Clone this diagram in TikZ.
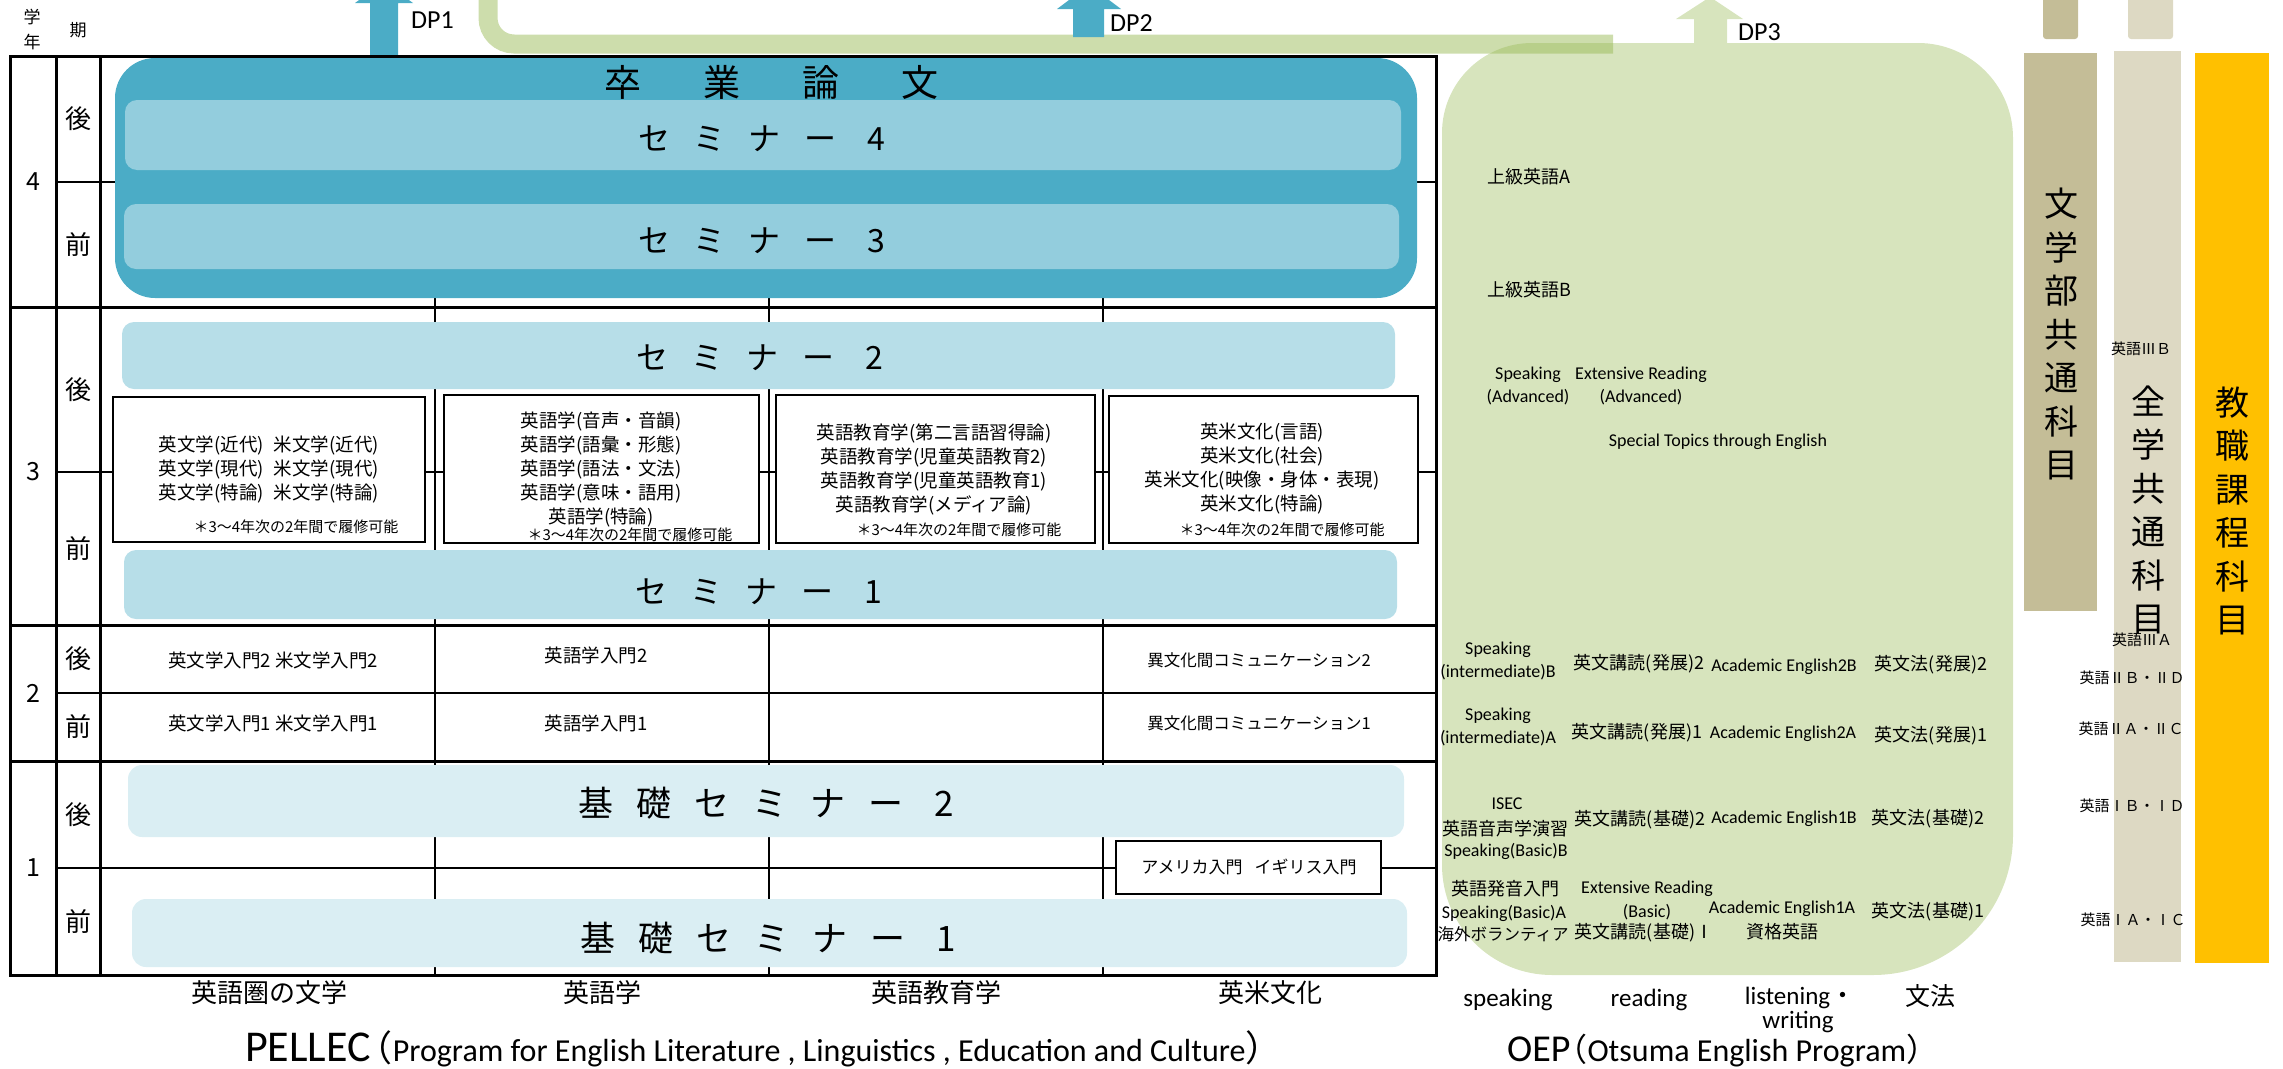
\documentclass[tikz,border=0pt]{standalone}
\usepackage{fontspec}
\setmainfont{Noto Sans CJK JP}
\newfontfamily\jpf{Noto Sans CJK JP}
\newfontfamily\latinf{Carlito}
\newlength\mypitch
\newcommand\bx[1]{\makebox[\mypitch][c]{#1}}
\definecolor{blueA}{HTML}{4BACC6}
\definecolor{blueB}{HTML}{93CDDD}
\definecolor{blueC}{HTML}{B7DEE8}
\definecolor{blueD}{HTML}{DAEEF3}
\definecolor{oepgreen}{HTML}{D7E4BD}
\definecolor{olivebar}{HTML}{9BBB59}
\definecolor{tanbar}{HTML}{C4BD97}
\definecolor{greybar}{HTML}{DDD9C3}
\definecolor{goldbar}{HTML}{FFC000}
\tikzset{
 thickln/.style={line width=3pt, draw=black},
 thinln/.style={line width=1.2pt, draw=black},
 tj/.style={font=\fontsize{18.5}{24}\selectfont, align=center},
 nt/.style={font=\fontsize{15}{18}\selectfont},
 hd/.style={font=\fontsize{17}{20}\selectfont},
 yr/.style={font=\fontsize{25}{30}\selectfont},
 sm/.style={font=\fontsize{26}{30}\selectfont},
 colh/.style={font=\fontsize{26}{30}\selectfont},
 semtxt/.style={font=\fontsize{32}{36}\selectfont},
 kisotxt/.style={font=\fontsize{35}{40}\selectfont},
 thesis/.style={font=\fontsize{37}{40}\selectfont},
 crs/.style={draw=black, line width=1.5pt, fill=white},
 oj/.style={font=\fontsize{18}{22}\selectfont},
 ol/.style={font=\latinf\fontsize{18}{23}\selectfont, align=center},
 dp/.style={font=\latinf\fontsize{26}{30}\selectfont, anchor=west},
 vert/.style={font=\fontsize{34}{43.5}\selectfont, align=center},
 eng/.style={font=\fontsize{15}{18}\selectfont},
 btm/.style={font=\latinf\fontsize{25}{28}\selectfont},
}
\begin{document}
\begin{tikzpicture}[x=1pt,y=-1pt, every node/.style={inner sep=0pt}]
\useasboundingbox (0,0) rectangle (2283,1068);

% ---------- OEP area ----------
\fill[oepgreen] (1442,133) .. controls (1442,83.3) and (1482.3,43) .. (1532,43)
  -- (1918,43) .. controls (1970.4,43) and (2013,85.6) .. (2013,138)
  -- (2013,835) .. controls (2013,912.3) and (1950.3,975) .. (1873,975)
  -- (1552,975) .. controls (1491.3,975) and (1442,925.7) .. (1442,865) -- cycle;
% DP3 arrow
\fill[oepgreen] (1694,45) -- (1694,19) -- (1676,19) -- (1710,-3) -- (1743,19) -- (1727,19) -- (1727,45) -- cycle;
% green bar
\draw[line width=19pt, draw=olivebar, draw opacity=0.5, rounded corners=26pt] (488,-30) -- (488,44) -- (1613,44);
% DP2 arrow
\fill[blueA] (1073,37) -- (1073,9) -- (1057,9) -- (1089,-15) -- (1121,9) -- (1104,9) -- (1104,37) -- cycle;
% DP1 arrow
\fill[blueA] (370,57) -- (370,3) -- (355,3) -- (384,-18) -- (413,3) -- (398,3) -- (398,57) -- cycle;
\node[dp] (dp1) at (411,20) {DP1};
\node[dp] (dp2) at (1110,23) {DP2};
\node[dp] (dp3) at (1738,32) {DP3};

% ---------- side bars ----------
\fill[tanbar, rounded corners=3pt] (2043,-10) rectangle (2078,39);
\fill[greybar, rounded corners=3pt] (2128,-10) rectangle (2173,39);
\fill[tanbar] (2024,53) rectangle (2097,611);
\fill[greybar] (2114,51) rectangle (2181,962);
\fill[goldbar] (2195,53) rectangle (2269,963);
\node[vert] (v1) at (2061,334) {文\\学\\部\\共\\通\\科\\目};
\node[vert] (v2) at (2148,510) {全\\学\\共\\通\\科\\目};
\node[vert] (v3) at (2232,511) {教\\職\\課\\程\\科\\目};
\node[eng] (e1) at (2141,349) {英語ⅢＢ};
\node[eng] (e2) at (2142,640) {英語ⅢＡ};
\node[eng] (e3) at (2132,678) {英語ⅡＢ・ⅡＤ};
\node[eng] (e4) at (2131,729) {英語ⅡＡ・ⅡＣ};
\node[eng] (e5) at (2132,806) {英語ⅠＢ・ⅠＤ};
\node[eng] (e6) at (2133,920) {英語ⅠＡ・ⅠＣ};

% ---------- table thin lines ----------
\foreach \yy in {182,472,693,868} \draw[thinln] (56,\yy) -- (1436,\yy);
\foreach \xx in {435,769,1103} \draw[thinln] (\xx,56) -- (\xx,975);

% ---------- year 4 ----------
\fill[blueA, rounded corners=40pt] (115,58) rectangle (1417,298);
\fill[blueB, rounded corners=12pt] (125,100) rectangle (1401,170);
\fill[blueB, rounded corners=12pt] (124,204) rectangle (1399,269);
\node[thesis] (thesis) at (771.5,82) {\setlength\mypitch{99pt}\bx{卒}\bx{業}\bx{論}\bx{文}};
\node[semtxt] (sem4) at (765,139) {\setlength\mypitch{55.5pt}\bx{セ}\bx{ミ}\bx{ナ}\bx{ー}\bx{4}};
\node[semtxt] (sem3) at (765,241) {\setlength\mypitch{55.5pt}\bx{セ}\bx{ミ}\bx{ナ}\bx{ー}\bx{3}};

% ---------- year 3 ----------
\fill[blueC, rounded corners=12pt] (122,322) rectangle (1395,389);
\fill[blueC, rounded corners=12pt] (124,550) rectangle (1397,619);
\node[semtxt] (sem2) at (763,358) {\setlength\mypitch{55.5pt}\bx{セ}\bx{ミ}\bx{ナ}\bx{ー}\bx{2}};
\node[semtxt] (sem1) at (762,592) {\setlength\mypitch{55.5pt}\bx{セ}\bx{ミ}\bx{ナ}\bx{ー}\bx{1}};
\draw[crs] (113,397) rectangle (425,542);
\draw[crs] (444,395) rectangle (759,543);
\draw[crs] (776,395) rectangle (1095,543);
\draw[crs] (1109,396) rectangle (1418,543);
\node[tj] (ca) at (269,469) {英文学(近代)\hspace{10pt}米文学(近代)\\英文学(現代)\hspace{10pt}米文学(現代)\\英文学(特論)\hspace{10pt}米文学(特論)};
\node[nt] (na) at (296,527) {＊3〜4年次の2年間で履修可能};
\node[tj] (cb) at (601,469) {英語学(音声・音韻)\\英語学(語彙・形態)\\英語学(語法・文法)\\英語学(意味・語用)\\英語学(特論)};
\node[nt] (nb) at (630,535) {＊3〜4年次の2年間で履修可能};
\node[tj] (cc) at (934,469) {英語教育学(第二言語習得論)\\英語教育学(児童英語教育2)\\英語教育学(児童英語教育1)\\英語教育学(メディア論)};
\node[nt] (nc) at (959,530) {＊3〜4年次の2年間で履修可能};
\node[tj] (cd) at (1262,469) {英米文化(言語)\\英米文化(社会)\\英米文化(映像・身体・表現)\\英米文化(特論)};
\node[nt] (nd) at (1282,530) {＊3〜4年次の2年間で履修可能};

% ---------- year 2 ----------
\node[tj] (y2a) at (273,660) {英文学入門2 米文学入門2};
\node[tj] (y2b) at (596,655) {英語学入門2};
\node[tj, font=\fontsize{16.5}{20}\selectfont] (y2c) at (1259,660) {異文化間コミュニケーション2};
\node[tj] (y1a) at (273,723) {英文学入門1 米文学入門1};
\node[tj] (y1b) at (596,723) {英語学入門1};
\node[tj, font=\fontsize{16.5}{20}\selectfont] (y1c) at (1259,723) {異文化間コミュニケーション1};

% ---------- year 1 ----------
\fill[blueD, rounded corners=14pt] (128,765) rectangle (1404,837);
\fill[blueD, rounded corners=14pt] (132,899) rectangle (1407,967);
\node[kisotxt] (k2) at (770,803) {\setlength\mypitch{58pt}\bx{基}\bx{礎}\bx{セ}\bx{ミ}\bx{ナ}\bx{ー}\bx{2}};
\node[kisotxt] (k1) at (772,938) {\setlength\mypitch{58pt}\bx{基}\bx{礎}\bx{セ}\bx{ミ}\bx{ナ}\bx{ー}\bx{1}};
\draw[crs] (1116,841) rectangle (1381,894);
\node[tj, font=\fontsize{17}{20}\selectfont] (ame) at (1249,867) {アメリカ入門\hspace{12pt}イギリス入門};

% ---------- table thick lines ----------
\draw[thickln] (10,56) rectangle (1436,975);
\draw[thickln] (56,56) -- (56,975);
\draw[thickln] (100,56) -- (100,975);
\foreach \yy in {307,625,761} \draw[thickln] (10,\yy) -- (1436,\yy);

% ---------- row / column labels ----------
\node[hd] (h1) at (32,17) {学};
\node[hd] (h2) at (32,42) {年};
\node[hd] (h3) at (78,30) {期};
\node[yr] (r4) at (33,182) {4};
\node[yr] (r3) at (33,472) {3};
\node[yr] (r2) at (33,693) {2};
\node[yr] (r1) at (33,868) {1};
\node[sm] (s4b) at (78,119) {後};
\node[sm] (s4a) at (78,245) {前};
\node[sm] (s3b) at (78,390) {後};
\node[sm] (s3a) at (78,549) {前};
\node[sm] (s2b) at (78,659) {後};
\node[sm] (s2a) at (78,727) {前};
\node[sm] (s1b) at (78,815) {後};
\node[sm] (s1a) at (78,922) {前};
\node[colh] (c1) at (269,993) {英語圏の文学};
\node[colh] (c2) at (602,993) {英語学};
\node[colh] (c3) at (936,993) {英語教育学};
\node[colh] (c4) at (1270,993) {英米文化};
\node[anchor=base west] (pellec) at (245,1061) {\latinf\fontsize{44}{44}\selectfont PELLEC\hspace{-14pt}\jpf\fontsize{36}{36}\selectfont （\latinf\fontsize{32}{32}\selectfont Program for English Literature , Linguistics , Education and Culture\jpf\fontsize{36}{36}\selectfont ）};

% ---------- OEP texts ----------
\node[oj, anchor=west] (o1) at (1487,177) {上級英語A};
\node[oj, anchor=west] (o2) at (1487,290) {上級英語B};
\node[ol] (o3) at (1528,386) {Speaking\\(Advanced)};
\node[ol] (o4) at (1641,386) {Extensive Reading\\(Advanced)};
\node[ol] (o5) at (1718,442) {Special Topics through English};
\node[ol] (o6) at (1498,661) {Speaking\\(intermediate)B};
\node[oj] (o7) at (1639,664) {英文講読(発展)2};
\node[ol] (o8) at (1784,667) {Academic English2B};
\node[oj] (o9) at (1931,665) {英文法(発展)2};
\node[ol] (o10) at (1498,727) {Speaking\\(intermediate)A};
\node[oj] (o11) at (1637,733) {英文講読(発展)1};
\node[ol] (o12) at (1783,734) {Academic English2A};
\node[oj] (o13) at (1931,736) {英文法(発展)1};
\node[ol] (o14) at (1507,804) {ISEC};
\node[oj] (o15) at (1505,829) {英語音声学演習};
\node[ol] (o16) at (1506,851) {Speaking(Basic)B};
\node[oj] (o17) at (1640,820) {英文講読(基礎)2};
\node[ol] (o18) at (1784,819) {Academic English1B};
\node[oj] (o19) at (1928,819) {英文法(基礎)2};
\node[oj] (o20) at (1505,889) {英語発音入門};
\node[ol] (o21) at (1504,913) {Speaking(Basic)A};
\node[oj, font=\fontsize{16.5}{20}\selectfont] (o22) at (1503,934) {海外ボランティア};
\node[ol] (o23) at (1647,889) {Extensive Reading};
\node[ol] (o24) at (1647,912) {(Basic)};
\node[oj] (o25) at (1644,933) {英文講読(基礎)Ⅰ};
\node[ol] (o26) at (1782,909) {Academic English1A};
\node[oj] (o27) at (1782,932) {資格英語};
\node[oj] (o28) at (1928,912) {英文法(基礎)1};
\node[btm] (b1) at (1508,1000) {speaking};
\node[btm] (b2) at (1649,1000) {reading};
\node[btm] (b3) at (1800,998) {listening{\jpf ・}};
\node[btm] (b4) at (1798,1022) {writing};
\node[colh, font=\fontsize{25}{28}\selectfont] (b5) at (1930,996) {文法};
\node[anchor=base west] (oep) at (1507,1061) {\latinf\fontsize{38}{38}\selectfont OEP\hspace{-15pt}\jpf\fontsize{32}{32}\selectfont （\latinf\fontsize{32}{32}\selectfont Otsuma English Program\jpf\fontsize{32}{32}\selectfont ）};
\end{tikzpicture}
\end{document}
